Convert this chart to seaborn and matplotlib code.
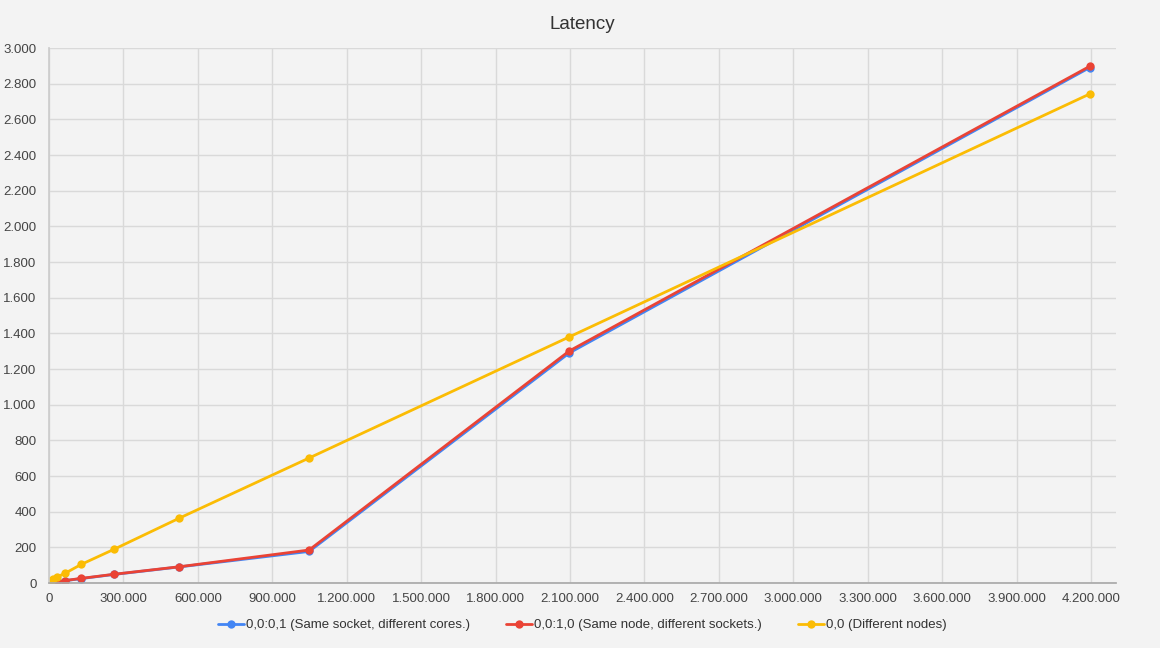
import numpy as np
import pandas as pd
import seaborn as sns
import matplotlib.pyplot as plt
from matplotlib.ticker import FuncFormatter, MultipleLocator

# message sizes (bytes), powers of two
sizes = [1, 2, 4, 8, 16, 32, 64, 128, 256, 512, 1024, 2048, 4096, 8192,
         16384, 32768, 65536, 131072, 262144, 524288, 1048576, 2097152, 4194304]

same_socket = [0.3, 0.3, 0.3, 0.3, 0.3, 0.4, 0.4, 0.5, 0.6, 0.8, 1.1, 1.6, 2.4, 3.8,
               4.5, 7.5, 13, 25, 48, 90, 177, 1290, 2890]
same_node = [0.5, 0.5, 0.5, 0.5, 0.5, 0.6, 0.6, 0.7, 0.9, 1.1, 1.4, 2.0, 2.8, 4.2,
             5.0, 8.0, 14, 26, 49, 91, 185, 1301, 2897]
diff_nodes = [1.5, 1.5, 1.5, 1.6, 1.6, 1.7, 1.8, 2.0, 2.4, 3.0, 4.0, 6.0, 9.0, 14,
              22, 34, 55, 105, 189, 363, 701, 1380, 2742]

labels = ["0,0:0,1 (Same socket, different cores.)",
          "0,0:1,0 (Same node, different sockets.)",
          "0,0 (Different nodes)"]
colors = ["#4285F4", "#EA4335", "#FBBC04"]

df = pd.DataFrame({
    "size": sizes * 3,
    "latency": same_socket + same_node + diff_nodes,
    "series": [labels[0]] * len(sizes) + [labels[1]] * len(sizes) + [labels[2]] * len(sizes),
})

sns.set_theme(style="white")
plt.rcParams["font.family"] = ["Liberation Sans", "DejaVu Sans"]

bg = "#F3F3F3"
fig = plt.figure(figsize=(11.6, 6.48), dpi=100, facecolor=bg)
ax = fig.add_axes([0.0422, 0.1003, 0.9197, 0.8256])
ax.set_facecolor(bg)

sns.lineplot(data=df, x="size", y="latency", hue="series", hue_order=labels,
             palette=colors, marker="o", markersize=6, markeredgewidth=0,
             linewidth=2, ax=ax, sort=False, legend=True)

ax.set_xlim(0, 4.3e6)
ax.set_ylim(0, 3000)
ax.xaxis.set_major_locator(MultipleLocator(300000))
ax.yaxis.set_major_locator(MultipleLocator(200))
dot_fmt = FuncFormatter(lambda v, p: f"{int(round(v)):,}".replace(",", "."))
ax.xaxis.set_major_formatter(dot_fmt)
ax.yaxis.set_major_formatter(dot_fmt)
ax.grid(True, color="#D9D9D9", linewidth=1)
ax.set_axisbelow(True)
ax.tick_params(axis="both", length=0, labelsize=9.5, labelcolor="#444444")
ax.tick_params(axis="y", pad=9)
ax.tick_params(axis="x", pad=7)

for s in ["top", "right"]:
    ax.spines[s].set_visible(False)
ax.spines["left"].set_color("#CCCCCC")
ax.spines["bottom"].set_color("#AAAAAA")

ax.set_xlabel("")
ax.set_ylabel("")
ax.set_title("Latency", fontsize=13.5, color="#333333", pad=14)

leg = ax.legend(loc="upper center", bbox_to_anchor=(0.5, -0.045), ncol=3,
                frameon=False, fontsize=9.5, handlelength=2.0, columnspacing=2.7,
                handletextpad=0.15)
for t in leg.get_texts():
    t.set_color("#333333")

fig.savefig("out.png", dpi=100, facecolor=bg)
